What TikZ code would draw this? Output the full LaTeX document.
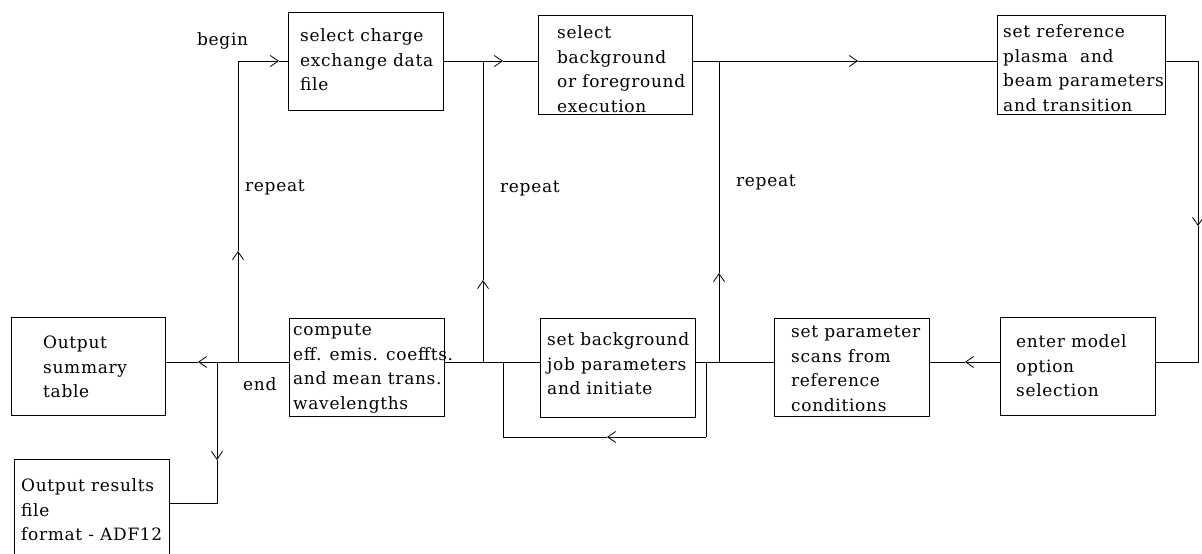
\documentclass[tikz,border=0pt]{standalone}
\usepackage{fontspec}
\setmainfont{DejaVu Serif}[LetterSpace=4]
\usetikzlibrary{arrows.meta}
\newcommand{\topstrut}{\rule{0pt}{17.4pt}}
\begin{document}
\begin{tikzpicture}[x=1pt,y=-1pt,
  box/.style={draw, line width=0.8pt, inner sep=0pt, rectangle},
  txt/.style={anchor=north west, inner sep=0pt, align=left,
    font=\fontsize{17}{24.8}\selectfont},
  lbl/.style={anchor=base west, inner sep=0pt, font=\fontsize{17}{24.8}\selectfont},
  ln/.style={line width=0.8pt},
  tip/.style={line width=0.8pt, -{Straight Barb[length=8pt,width=11pt]}}]
\clip (0,0) rectangle (1202,554);
\fill[white] (0,0) rectangle (1202,554);
% boxes
\node[box, minimum width=155pt, minimum height=98pt] (b1) at (365.5,61) {};
\node[box, minimum width=154pt, minimum height=99pt] (b2) at (615,64.5) {};
\node[box, minimum width=168pt, minimum height=99pt] (b3) at (1081,64.5) {};
\node[box, minimum width=154pt, minimum height=98pt] (b4) at (88,366) {};
\node[box, minimum width=155pt, minimum height=98pt] (b5) at (366.5,367) {};
\node[box, minimum width=155pt, minimum height=141pt] (b6) at (91.5,529.5) {};
\node[box, minimum width=155pt, minimum height=99pt] (b7) at (617.5,367.5) {};
\node[box, minimum width=155pt, minimum height=98pt] (b8) at (851.5,367) {};
\node[box, minimum width=155pt, minimum height=98pt] (b9) at (1077.5,366) {};
% texts
\node[txt] (t1) at (300,41-17.4) {\topstrut select charge\\exchange data\\file};
\node[txt] (t2) at (557,38-17.4) {\topstrut select\\background\\or foreground\\execution};
\node[txt] (t3) at (1003,37-17.4) {\topstrut set reference\\plasma~ and\\beam parameters\\and transition};
\node[txt] (t4) at (43,348-17.4) {\topstrut Output\\summary\\table};
\node[txt] (t5) at (293,335-17.4) {\topstrut compute\\eff. emis. coeffts.\\and mean trans.\\wavelengths};
\node[txt] (t6) at (21,491-17.4) {\topstrut Output results\\file\\format - ADF12};
\node[txt] (t7) at (547,345-17.4) {\topstrut set background\\job parameters\\and initiate};
\node[txt] (t8) at (791,337-17.4) {\topstrut set parameter\\scans from\\reference\\conditions};
\node[txt] (t9) at (1016,347-17.4) {\topstrut enter model\\option\\selection};
% labels
\node[lbl] (lbegin) at (197,45) {begin};
\node[lbl] (lrep1) at (245,191) {repeat};
\node[lbl] (lrep2) at (500,192) {repeat};
\node[lbl] (lrep3) at (736,186) {repeat};
\node[lbl] (lend) at (243,390) {end};
% coordinates
\coordinate (c0) at (238,61);
\coordinate (j1) at (483,61);
\coordinate (j2) at (719,61);
\coordinate (c3) at (1198,61);
\coordinate (c4) at (1198,362);
\coordinate (j3) at (719,362);
\coordinate (l1) at (706,362);
\coordinate (l2) at (706,437);
\coordinate (l3) at (503,437);
\coordinate (l4) at (503,362);
\coordinate (j4) at (483,362);
\coordinate (j5) at (238,362);
\coordinate (j6) at (217,362);
\coordinate (c6) at (217,503);
\coordinate (a0) at (279,61);
\coordinate (a1) at (503,61);
\coordinate (a2) at (858,61);
\coordinate (a3) at (1198,226);
\coordinate (a4) at (965,362);
\coordinate (a5) at (607,437);
\coordinate (a6) at (198,362);
\coordinate (a7) at (217,460);
\coordinate (a8) at (238,251);
\coordinate (a9) at (483,280);
\coordinate (a10) at (719,273);
% top row
\draw[tip] (b1.east |- j1) -- (a1);
\draw[ln] (a1) -- (b2.west |- a1);
\draw[tip] (b2.east |- j2) -- (a2);
\draw[ln] (a2) -- (b3.west |- a2);
\draw[ln] (b3.east |- c3) -- (c3);
\draw[tip] (c3) -- (a3);
\draw[ln] (a3) -- (c4) -- (b9.east |- c4);
% middle row
\draw[tip] (b9.west |- c4) -- (a4);
\draw[ln] (a4) -- (b8.east |- a4);
\draw[ln] (b8.west |- j3) -- (b7.east |- j3);
\draw[ln] (l1) -- (l2);
\draw[tip] (l2) -- (a5);
\draw[ln] (a5) -- (l3) -- (l4);
\draw[ln] (b7.west |- j4) -- (b5.east |- j4);
\draw[tip] (j4) -- (a9);
\draw[ln] (a9) -- (j1);
\draw[tip] (j3) -- (a10);
\draw[ln] (a10) -- (j2);
\draw[tip] (b5.west |- j5) -- (a6);
\draw[ln] (a6) -- (b4.east |- a6);
\draw[tip] (j5) -- (a8);
\draw[ln] (a8) -- (c0);
\draw[tip] (c0) -- (a0);
\draw[ln] (a0) -- (b1.west |- a0);
\draw[tip] (j6) -- (a7);
\draw[ln] (a7) -- (c6) -- (b6.east |- c6);
\end{tikzpicture}
\end{document}
